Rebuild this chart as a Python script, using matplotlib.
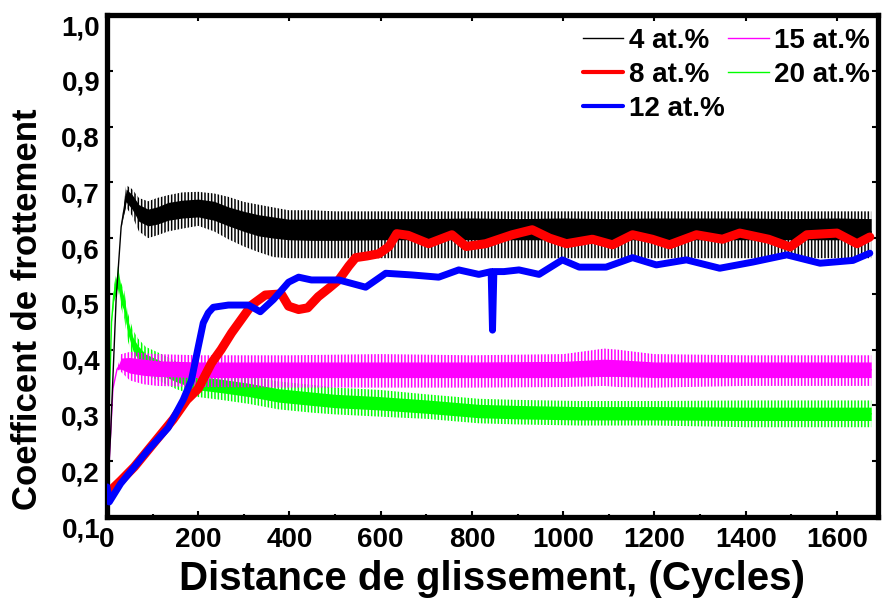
import matplotlib
matplotlib.use("Agg")
import matplotlib.pyplot as plt
import matplotlib.transforms as mtrans
import numpy as np

plt.rcParams['font.family'] = ['Liberation Sans', 'DejaVu Sans']
plt.rcParams['font.weight'] = 'bold'
plt.rcParams['hatch.linewidth'] = 1.1

# 4 at.% (black) - noisy band: centre, core band, spike band
bk_x = [0, 8, 20, 31, 42, 55, 70, 90, 110, 134, 165, 200, 235, 266, 300, 332, 365, 398,
        450, 500, 600, 700, 800, 900, 1000, 1100, 1200, 1300, 1400, 1500, 1600, 1675]
bk_mid = [0.13, 0.25, 0.49, 0.62, 0.675, 0.665, 0.645, 0.637, 0.64, 0.648, 0.652, 0.655,
          0.65, 0.64, 0.632, 0.624, 0.618, 0.612, 0.61, 0.61, 0.611, 0.611, 0.612, 0.611,
          0.612, 0.611, 0.612, 0.612, 0.612, 0.611, 0.612, 0.611]
bk_clo = [0.13, 0.25, 0.49, 0.62, 0.665, 0.652, 0.630, 0.622, 0.625, 0.632, 0.636, 0.638,
          0.632, 0.622, 0.612, 0.604, 0.600, 0.597, 0.596, 0.596, 0.597, 0.597, 0.597,
          0.597, 0.597, 0.597, 0.597, 0.597, 0.597, 0.597, 0.597, 0.597]
bk_chi = [0.13, 0.25, 0.49, 0.62, 0.688, 0.678, 0.660, 0.652, 0.656, 0.664, 0.668, 0.670,
          0.666, 0.656, 0.648, 0.642, 0.638, 0.634, 0.634, 0.634, 0.635, 0.635, 0.636,
          0.635, 0.636, 0.635, 0.636, 0.636, 0.636, 0.635, 0.636, 0.635]
bk_lo = [0.13, 0.25, 0.49, 0.62, 0.655, 0.640, 0.612, 0.600, 0.605, 0.612, 0.617, 0.622,
         0.612, 0.598, 0.585, 0.575, 0.566, 0.564, 0.564, 0.564, 0.564, 0.564, 0.564,
         0.564, 0.564, 0.564, 0.564, 0.564, 0.564, 0.564, 0.564, 0.564]
bk_hi = [0.13, 0.25, 0.49, 0.62, 0.695, 0.688, 0.672, 0.666, 0.672, 0.677, 0.682, 0.683,
         0.680, 0.674, 0.665, 0.660, 0.655, 0.650, 0.650, 0.648, 0.648, 0.648, 0.648,
         0.648, 0.648, 0.648, 0.648, 0.648, 0.648, 0.648, 0.648, 0.648]

# 8 at.% (red)
red_x = [2, 30, 60, 90, 120, 145, 175, 200, 229, 250, 273, 295, 317, 347, 382, 398, 420,
         440, 463, 486, 508, 530, 545, 570, 596, 618, 635, 660, 705, 756, 787, 830, 888,
         932, 970, 1007, 1064, 1108, 1152, 1195, 1233, 1292, 1349, 1387, 1450, 1497, 1534,
         1600, 1644, 1672]
red_y = [0.143, 0.165, 0.19, 0.22, 0.25, 0.275, 0.31, 0.33, 0.376, 0.40, 0.43, 0.455,
         0.48, 0.498, 0.50, 0.478, 0.472, 0.475, 0.495, 0.51, 0.525, 0.55, 0.565, 0.568,
         0.572, 0.585, 0.608, 0.605, 0.59, 0.606, 0.585, 0.59, 0.606, 0.615, 0.60, 0.59,
         0.598, 0.588, 0.606, 0.598, 0.588, 0.606, 0.598, 0.609, 0.598, 0.584, 0.606,
         0.609, 0.59, 0.602]

# 12 at.% (blue)
bl_x = [0, 5, 30, 60, 90, 134, 167, 185, 200, 211, 222, 233, 266, 310, 336, 365, 398, 420,
        448, 508, 567, 611, 668, 727, 771, 815, 842, 845, 848, 870, 903, 947, 998, 1035,
        1094, 1152, 1204, 1270, 1343, 1415, 1490, 1563, 1635, 1672]
bl_y = [0.154, 0.127, 0.16, 0.19, 0.22, 0.26, 0.31, 0.345, 0.405, 0.448, 0.466, 0.476,
        0.48, 0.48, 0.468, 0.49, 0.521, 0.53, 0.525, 0.525, 0.512, 0.537, 0.534, 0.53,
        0.543, 0.535, 0.54, 0.435, 0.54, 0.54, 0.543, 0.535, 0.561, 0.548, 0.548, 0.565,
        0.552, 0.561, 0.546, 0.557, 0.57, 0.555, 0.56, 0.573]

# 15 at.% (magenta)
mg_x = [0, 5, 13, 22, 31, 50, 80, 110, 200, 400, 600, 800, 1000, 1090, 1120, 1200, 1400,
        1600, 1675]
mg_mid = [0.13, 0.20, 0.33, 0.365, 0.375, 0.372, 0.368, 0.365, 0.364, 0.364, 0.364, 0.364,
          0.365, 0.367, 0.366, 0.364, 0.364, 0.364, 0.364]
mg_clo = [0.13, 0.20, 0.33, 0.365, 0.365, 0.358, 0.354, 0.352, 0.350, 0.350, 0.350, 0.350,
          0.350, 0.352, 0.352, 0.350, 0.350, 0.350, 0.350]
mg_chi = [0.13, 0.20, 0.33, 0.365, 0.385, 0.386, 0.383, 0.380, 0.378, 0.378, 0.378, 0.378,
          0.379, 0.383, 0.382, 0.378, 0.378, 0.378, 0.378]
mg_lo = [0.13, 0.20, 0.33, 0.365, 0.36, 0.345, 0.338, 0.335, 0.333, 0.332, 0.332, 0.332,
         0.333, 0.335, 0.333, 0.332, 0.335, 0.335, 0.335]
mg_hi = [0.13, 0.20, 0.33, 0.365, 0.392, 0.396, 0.394, 0.392, 0.390, 0.390, 0.392, 0.390,
         0.392, 0.402, 0.400, 0.392, 0.390, 0.390, 0.390]

# 20 at.% (green)
gr_x = [0, 5, 10, 15, 24, 30, 38, 46, 57, 68, 85, 112, 150, 200, 250, 310, 376, 450, 500,
        596, 700, 815, 900, 1035, 1200, 1400, 1675]
gr_mid = [0.10, 0.30, 0.45, 0.50, 0.53, 0.50, 0.48, 0.44, 0.41, 0.395, 0.38, 0.37, 0.355,
          0.34, 0.335, 0.328, 0.318, 0.312, 0.308, 0.304, 0.298, 0.29, 0.288, 0.286,
          0.286, 0.285, 0.285]
gr_half = [0.0, 0.0, 0.0, 0.01, 0.015, 0.015, 0.012, 0.012, 0.012, 0.012, 0.012, 0.012,
           0.012, 0.012, 0.012, 0.012, 0.012, 0.012, 0.012, 0.012, 0.012, 0.012, 0.012,
           0.012, 0.012, 0.012, 0.012]
gr_spike = [0.0, 0.0, 0.0, 0.015, 0.02, 0.022, 0.025, 0.025, 0.025, 0.025, 0.025, 0.025,
            0.025, 0.025, 0.025, 0.025, 0.025, 0.025, 0.024, 0.024, 0.022, 0.022, 0.022,
            0.022, 0.022, 0.024, 0.024]

x_ticks = [0, 200, 400, 600, 800, 1000, 1200, 1400, 1600]
y_ticks = [0.1, 0.2, 0.3, 0.4, 0.5, 0.6, 0.7, 0.8, 0.9, 1.0]
y_ticklabels = ['0,1', '0,2', '0,3', '0,4', '0,5', '0,6', '0,7', '0,8', '0,9', '1,0']


def noisy_band(ax, x, lo, hi, clo, chi, color, z):
    ax.fill_between(x, lo, hi, facecolor='none', edgecolor=color, hatch='|||||',
                    linewidth=0, zorder=z)
    ax.fill_between(x, clo, chi, color=color, linewidth=0, zorder=z)


fig = plt.figure(figsize=(8.82, 6.0), dpi=100)
ax = fig.add_axes([0.1213, 0.1383, 0.8742, 0.8367])

gr_mid_a = np.array(gr_mid)
gr_half_a = np.array(gr_half)
gr_spike_a = np.array(gr_spike)
noisy_band(ax, gr_x, gr_mid_a - gr_spike_a, gr_mid_a + gr_spike_a,
           gr_mid_a - gr_half_a, gr_mid_a + gr_half_a, '#00ff00', 2)
noisy_band(ax, mg_x, mg_lo, mg_hi, mg_clo, mg_chi, '#ff00ff', 2.5)
noisy_band(ax, bk_x, bk_lo, bk_hi, bk_clo, bk_chi, 'black', 3)

ax.plot(bk_x, bk_mid, color='black', lw=1, label='4 at.%', zorder=3)
ax.plot(red_x, red_y, color='#ff0000', lw=6.5, label='8 at.%', zorder=4,
        solid_joinstyle='round', solid_capstyle='round')
ax.plot(bl_x, bl_y, color='#0000ff', lw=5, label='12 at.%', zorder=5,
        solid_joinstyle='round', solid_capstyle='round')
ax.plot(mg_x, mg_mid, color='#ff00ff', lw=1, label='15 at.%', zorder=2.5)
ax.plot(gr_x, gr_mid, color='#00ff00', lw=1, label='20 at.%', zorder=2)

ax.set_xlim(0, 1690)
ax.set_ylim(0.1, 1.0)
ax.set_xticks(x_ticks)
ax.set_xticks(np.arange(0, 1700, 100), minor=True)
ax.set_yticks(y_ticks)
ax.set_yticklabels(y_ticklabels)
ax.tick_params(which='both', direction='in', top=True, right=True, labelsize=20,
               width=1.5, length=4)
ax.tick_params(axis='x', pad=7)
ax.tick_params(axis='y', pad=5)
ax.tick_params(which='minor', length=2.5)
for s in ax.spines.values():
    s.set_linewidth(3.8)

# y tick labels hang below their tick (top of digits on the tick)
shift = mtrans.ScaledTranslation(0, -0.2, fig.dpi_scale_trans)
for t in ax.yaxis.get_major_ticks():
    t.label1.set_verticalalignment('baseline')
    t.label1.set_transform(t.label1.get_transform() + shift)

fig.text(0.558, 0.0167, 'Distance de glissement, (Cycles)', fontsize=29,
         fontweight='bold', ha='center', va='baseline')
fig.text(0.031, 0.485, 'Coefficent de frottement', fontsize=25, fontweight='bold',
         rotation=90, ha='center', va='center')

leg = ax.legend(ncol=2, loc='upper right', bbox_to_anchor=(1.006, 1.0), frameon=False,
                fontsize=20, handlelength=1.45, handletextpad=0.2, columnspacing=0.15,
                labelspacing=0.3, borderpad=0.3, borderaxespad=0.15)
for t in leg.get_texts():
    t.set_fontweight('bold')
for h, w in zip(leg.legend_handles, [1, 3, 3, 1, 1]):
    h.set_linewidth(w)

fig.savefig('out.png', dpi=100)
